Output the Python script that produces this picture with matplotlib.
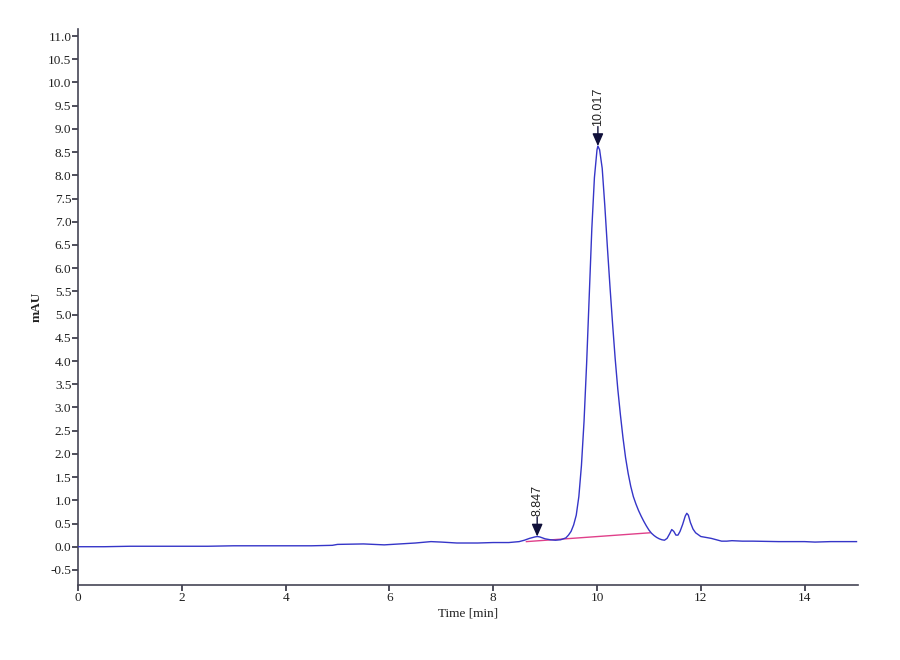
import matplotlib
matplotlib.use("Agg")
import matplotlib.pyplot as plt

# Chromatogram trace (time in min, signal in mAU)
time_min = [0.0, 0.5, 1.0, 1.5, 2.0, 2.5, 3.0, 3.5, 4.0, 4.5, 4.9, 5.0, 5.5, 5.9,
            6.2, 6.5, 6.8, 7.0, 7.3, 7.7, 8.0, 8.3, 8.5, 8.6, 8.7, 8.8, 8.85, 8.9,
            9.0, 9.1, 9.2, 9.3, 9.4, 9.45, 9.5, 9.55, 9.6, 9.65, 9.7, 9.75, 9.8,
            9.85, 9.9, 9.95, 10.0, 10.017, 10.05, 10.1, 10.15, 10.2, 10.25, 10.3,
            10.35, 10.4, 10.45, 10.5, 10.55, 10.6, 10.65, 10.7, 10.75, 10.8, 10.85,
            10.9, 10.95, 11.0, 11.05, 11.1, 11.15, 11.2, 11.25, 11.3, 11.35, 11.4,
            11.44, 11.48, 11.52, 11.56, 11.6, 11.65, 11.7, 11.73, 11.76, 11.8,
            11.85, 11.9, 12.0, 12.1, 12.2, 12.3, 12.4, 12.5, 12.6, 12.8, 13.0,
            13.5, 14.0, 14.2, 14.5, 15.0]
signal_mau = [0.00, 0.00, 0.01, 0.01, 0.01, 0.01, 0.02, 0.02, 0.02, 0.02, 0.03, 0.05,
              0.06, 0.04, 0.06, 0.08, 0.11, 0.10, 0.08, 0.08, 0.09, 0.09, 0.11, 0.14,
              0.18, 0.21, 0.22, 0.21, 0.17, 0.15, 0.14, 0.15, 0.19, 0.25, 0.33, 0.47,
              0.68, 1.08, 1.75, 2.70, 3.95, 5.40, 6.85, 7.95, 8.55, 8.63, 8.55, 8.15,
              7.35, 6.45, 5.60, 4.80, 4.05, 3.40, 2.85, 2.35, 1.92, 1.58, 1.30, 1.08,
              0.92, 0.78, 0.66, 0.55, 0.45, 0.36, 0.29, 0.24, 0.20, 0.17, 0.15, 0.14,
              0.18, 0.28, 0.37, 0.33, 0.25, 0.25, 0.33, 0.48, 0.66, 0.72, 0.68, 0.52,
              0.38, 0.30, 0.22, 0.20, 0.18, 0.15, 0.12, 0.12, 0.13, 0.12, 0.12, 0.11,
              0.11, 0.10, 0.11, 0.11]

# Integration baseline of the main peak
baseline_t = [8.64, 11.02]
baseline_v = [0.11, 0.30]

# Peak labels
peak_rt = [8.847, 10.017]
peak_height = [0.22, 8.63]
peak_labels = ["8.847", "10.017"]

y_ticks = [-0.5, 0.0, 0.5, 1.0, 1.5, 2.0, 2.5, 3.0, 3.5, 4.0, 4.5, 5.0, 5.5,
           6.0, 6.5, 7.0, 7.5, 8.0, 8.5, 9.0, 9.5, 10.0, 10.5, 11.0]
x_ticks = [0, 2, 4, 6, 8, 10, 12, 14]

plt.rcParams['font.family'] = ['Liberation Serif', 'DejaVu Serif']

fig = plt.figure(figsize=(9, 6.6), dpi=100)
ax = fig.add_axes([0.0867, 0.1136, 0.8667, 0.8424])

ax.plot(time_min, signal_mau, color='#3535c8', lw=1.0, zorder=3)
ax.plot(baseline_t, baseline_v, color='#e0408a', lw=1.0, zorder=2)

for rt, h, lab in zip(peak_rt, peak_height, peak_labels):
    ax.annotate('', xy=(rt, h), xytext=(rt, h + 0.42),
                arrowprops=dict(arrowstyle='-|>,head_length=0.75,head_width=0.33',
                                color='#10103a', lw=1.0, shrinkA=0, shrinkB=0),
                zorder=4)
    ax.text(rt, h + 0.44, lab, rotation=90, ha='center', va='bottom',
            fontsize=9, color='#202020', family=['Liberation Sans', 'DejaVu Sans'])

ax.set_xlim(0, 15.03)
ax.set_ylim(-0.825, 11.15)
ax.set_xticks(x_ticks)
ax.set_xticklabels([str(v) for v in x_ticks])
ax.set_yticks(y_ticks)
ax.set_yticklabels([f"{v:.1f}" for v in y_ticks])

for s in ['top', 'right']:
    ax.spines[s].set_visible(False)
for s in ['left', 'bottom']:
    ax.spines[s].set_color('#454555')
    ax.spines[s].set_linewidth(1.2)
ax.tick_params(axis='both', direction='out', length=4, width=1.2,
               color='#303040', labelsize=9.5, pad=0.8, labelcolor='#202020')

ax.set_xlabel('Time [min]', fontsize=9.5, color='#202020', labelpad=3)
ax.set_ylabel('mAU', fontsize=9.5, fontweight='bold', color='#202020')
ax.yaxis.set_label_coords(-0.046, 0.5)

fig.savefig('out.png', dpi=100)
